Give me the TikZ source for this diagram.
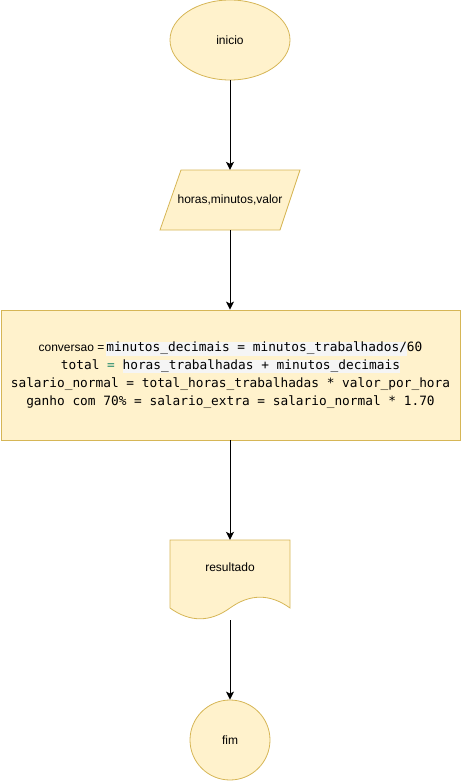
\documentclass[tikz,border=0pt]{standalone}
\usepackage{fontspec}
\setmainfont{Liberation Sans}
\newfontfamily\monofam{DejaVu Sans Mono}
\usetikzlibrary{shapes.geometric,arrows.meta}
\definecolor{boxfill}{HTML}{FFF2CC}
\definecolor{boxline}{HTML}{D6B656}
\definecolor{hlgray}{HTML}{F5F5F5}
\definecolor{eqgreen}{HTML}{22886A}
\newcommand\hlbox[1]{{\setlength{\fboxsep}{0pt}\colorbox{hlgray}{\rule[-3.6pt]{0pt}{13.6pt}#1}}}
\begin{document}
\begin{tikzpicture}[x=1pt,y=-1pt,
  shp/.style={draw=boxline,fill=boxfill,line width=0.8pt},
  lbl/.style={font=\fontsize{12}{14}\selectfont,text=black},
  conn/.style={draw=black,line width=1pt,-{Stealth[length=8pt,width=8pt,inset=2pt]}}]
\useasboundingbox (0,0) rectangle (461,781);
% start
\node[shp,lbl,ellipse,minimum width=120,minimum height=80,inner sep=0pt] (start) at (230,40) {inicio};
% input parallelogram
\draw[shp] (181,170) -- (300,170) -- (280,230) -- (160,230) -- cycle;
\node[lbl,minimum width=140,minimum height=60,inner sep=0pt] (input) at (230,200) {horas,minutos,valor};
% process box
\node[shp,rectangle,minimum width=459,minimum height=130,inner sep=0pt,align=center,
  font=\monofam\fontsize{12.8}{17.7}\selectfont] (proc) at (230.5,375) {%
  {\rmfamily\fontsize{12}{14}\selectfont conversao =}\,\hlbox{minutos\_decimais = minutos\_trabalhados/}60\\
  total {\color{eqgreen}=} \hlbox{horas\_trabalhadas + minutos\_decimais}\\
  salario\_normal = total\_horas\_trabalhadas * valor\_por\_hora\\
  ganho com 70\% = salario\_extra = salario\_normal * 1.70};
% document
\draw[shp] (170,540) -- (290,540) -- (290,608)
  .. controls (270,593.6) and (250,593.6) .. (230,608)
  .. controls (210,622.4) and (190,622.4) .. (170,608) -- cycle;
\node[minimum width=120,minimum height=80,inner sep=0pt] (doc) at (230,580) {};
\node[lbl] (doclabel) at (230,567) {resultado};
% end
\node[shp,lbl,circle,minimum size=80,inner sep=0pt] (fim) at (230,740) {fim};
% connectors
\draw[conn] (start.south) -- (input.north);
\draw[conn] (input.south) -- (proc.north -| input.south);
\draw[conn] (proc.south -| input.south) -- (doc.north);
\draw[conn] (doc.south) -- (fim.north);
\end{tikzpicture}
\end{document}
